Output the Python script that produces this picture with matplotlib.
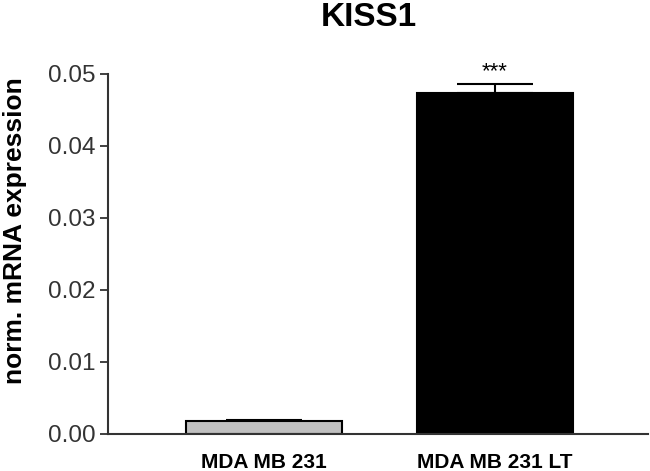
import matplotlib
matplotlib.use("Agg")
import matplotlib.pyplot as plt

categories = ["MDA MB 231", "MDA MB 231 LT"]
values = [0.0017, 0.0473]
errors = [0.0002, 0.0013]
bar_colors = ["#c0c0c0", "#000000"]
yticks = [0.00, 0.01, 0.02, 0.03, 0.04, 0.05]
ytick_labels = ["0.00", "0.01", "0.02", "0.03", "0.04", "0.05"]
title = "KISS1"
ylabel = "norm. mRNA expression"
signif = "***"

plt.rcParams['font.family'] = ['Liberation Sans', 'DejaVu Sans']

W, H = 650, 471
fig = plt.figure(figsize=(W / 100, H / 100), dpi=100)
ax = fig.add_axes([108 / W, (H - 433.5) / H, (648 - 108) / W, (433.5 - 74) / H])

x = list(range(len(categories)))
ax.bar(x, values, width=0.675, color=bar_colors, edgecolor="black", linewidth=1.5, zorder=2)
ax.errorbar(x, values, yerr=[[0, 0], errors], fmt="none", ecolor="black",
            elinewidth=1.5, capsize=27.5, capthick=1.5, zorder=1)
ax.text(x[1], values[1] + errors[1] + 0.0003, signif, ha="center", va="bottom", fontsize=16)

ax.set_xlim(-0.675, 1.662)
ax.set_ylim(0, 0.05)
ax.set_yticks(yticks)
ax.set_yticklabels(ytick_labels, fontsize=17.5, color="#333333")
ax.set_xticks(x)
ax.set_xticklabels(categories, fontsize=15, fontweight="bold")
ax.tick_params(axis="x", length=0, pad=14)
ax.tick_params(axis="y", direction="out", length=6, width=1.3, color="#333333", pad=3)
for s in ["top", "right"]:
    ax.spines[s].set_visible(False)
for s in ["left", "bottom"]:
    ax.spines[s].set_linewidth(1.5)
    ax.spines[s].set_color("#333333")

fig.text(15 / W, 1 - 231 / H, ylabel, rotation=90, ha="center", va="center",
         fontsize=19, fontweight="bold")
fig.text(369 / W, 1 - 2 / H, title, ha="center", va="top", fontsize=24, fontweight="bold")

fig.savefig("out.png", dpi=100)
